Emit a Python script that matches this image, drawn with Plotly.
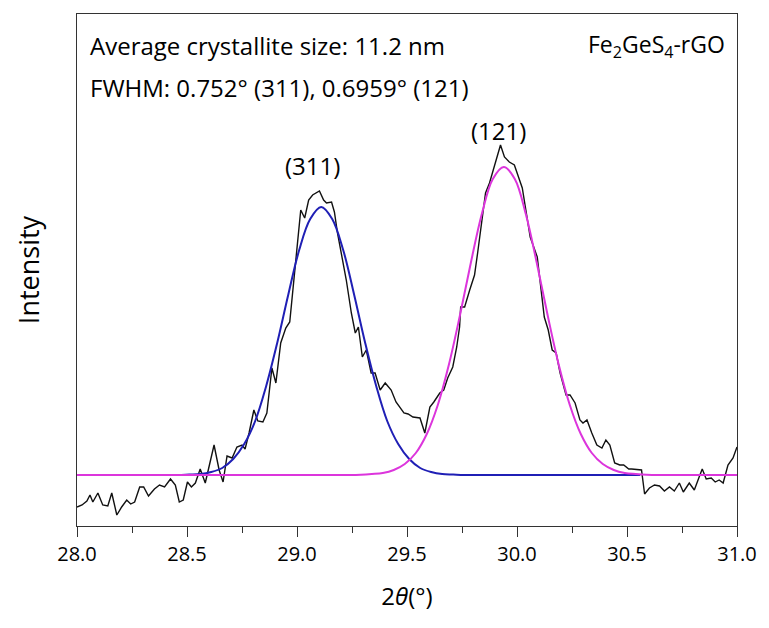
import plotly.graph_objects as go

# Measured XRD pattern (2theta in degrees, intensity in arbitrary units)
two_theta = [28.000, 28.023, 28.045, 28.059, 28.072, 28.095, 28.117, 28.140, 28.158, 28.181,
             28.203, 28.226, 28.244, 28.262, 28.285, 28.303, 28.325, 28.352, 28.375, 28.398,
             28.425, 28.447, 28.465, 28.483, 28.502, 28.520, 28.538, 28.560, 28.583, 28.601,
             28.623, 28.646, 28.664, 28.682, 28.705, 28.727, 28.750, 28.764, 28.782, 28.804,
             28.822, 28.845, 28.863, 28.886, 28.904, 28.926, 28.949, 28.967, 28.985, 29.003,
             29.017, 29.035, 29.053, 29.071, 29.089, 29.102, 29.121, 29.134, 29.157, 29.170,
             29.184, 29.202, 29.224, 29.247, 29.265, 29.279, 29.297, 29.315, 29.337, 29.355,
             29.378, 29.401, 29.428, 29.450, 29.468, 29.486, 29.505, 29.527, 29.559, 29.581,
             29.604, 29.622, 29.649, 29.667, 29.685, 29.708, 29.726, 29.739, 29.744, 29.762,
             29.785, 29.807, 29.821, 29.839, 29.857, 29.875, 29.889, 29.902, 29.925, 29.943,
             29.965, 29.988, 30.011, 30.024, 30.038, 30.060, 30.092, 30.105, 30.124, 30.142,
             30.160, 30.178, 30.196, 30.223, 30.241, 30.264, 30.286, 30.300, 30.318, 30.340,
             30.363, 30.386, 30.404, 30.422, 30.444, 30.467, 30.485, 30.508, 30.521, 30.566,
             30.580, 30.602, 30.625, 30.648, 30.670, 30.693, 30.715, 30.738, 30.756, 30.783,
             30.806, 30.828, 30.842, 30.860, 30.883, 30.901, 30.919, 30.937, 30.959, 30.982,
             31.000]
intensity = [19, 21, 25, 31, 24, 33, 21, 20, 33, 11,
             19, 26, 22, 24, 39, 39, 30, 37, 41, 39,
             47, 41, 24, 26, 44, 39, 43, 57, 43, 59,
             81, 56, 44, 70, 68, 79, 81, 77, 93, 116,
             105, 104, 113, 158, 143, 183, 198, 204, 246, 286,
             316, 308, 326, 331, 333, 335, 326, 323, 324, 314,
             293, 273, 246, 213, 193, 199, 169, 176, 153, 153,
             136, 143, 136, 124, 119, 113, 112, 109, 108, 93,
             119, 124, 133, 136, 148, 159, 179, 199, 219, 219,
             236, 251, 273, 306, 333, 343, 353, 363, 381, 369,
             364, 361, 346, 338, 319, 289, 269, 246, 209, 196,
             176, 173, 153, 131, 131, 123, 106, 103, 106, 93,
             81, 78, 86, 81, 63, 61, 61, 57, 57, 56,
             32, 38, 41, 40, 35, 39, 35, 43, 34, 43,
             36, 49, 57, 47, 48, 44, 46, 43, 61, 68,
             79]

# Fitted (311) peak
fit311_x = [28.41, 28.46, 28.51, 28.56, 28.61, 28.66, 28.71, 28.76, 28.81, 28.86,
            28.91, 28.96, 29.01, 29.06, 29.11, 29.16, 29.21, 29.26, 29.31, 29.36,
            29.41, 29.46, 29.51, 29.56, 29.61, 29.66, 29.71, 29.76, 29.96, 30.16,
            30.36, 30.56]
fit311_y = [51, 51, 51.5, 52, 54, 58, 67, 82, 105, 140,
            183, 231, 276, 307, 319, 307, 276, 231, 183, 140,
            105, 82, 67, 58, 54, 52, 51.5, 51, 51, 51,
            51, 51]

# Fitted (121) peak
fit121_x = [28.00, 28.40, 28.80, 29.19, 29.24, 29.29, 29.34, 29.39, 29.44, 29.49,
            29.54, 29.59, 29.64, 29.69, 29.74, 29.79, 29.84, 29.89, 29.94, 29.99,
            30.04, 30.09, 30.14, 30.19, 30.24, 30.29, 30.34, 30.39, 30.44, 30.49,
            30.54, 30.59, 30.64, 30.80, 31.00]
fit121_y = [51, 51, 51, 51, 51, 51.3, 52, 53, 56, 62,
            73, 92, 121, 161, 210, 263, 312, 347, 359, 347,
            312, 263, 210, 161, 121, 92, 73, 62, 56, 53,
            52, 51.3, 51, 51, 51]

x_ticks = [28.0, 28.5, 29.0, 29.5, 30.0, 30.5, 31.0]
x_tick_labels = ["28.0", "28.5", "29.0", "29.5", "30.0", "30.5", "31.0"]

FONT = "Open Sans"

fig = go.Figure()
fig.add_trace(go.Scatter(x=two_theta, y=intensity, mode="lines",
                         line=dict(color="#111111", width=1.4), showlegend=False))
fig.add_trace(go.Scatter(x=fit311_x, y=fit311_y, mode="lines",
                         line=dict(color="#1f1fb5", width=2, shape="spline", smoothing=1),
                         showlegend=False))
fig.add_trace(go.Scatter(x=fit121_x, y=fit121_y, mode="lines",
                         line=dict(color="#dc35dc", width=2, shape="spline", smoothing=1),
                         showlegend=False))

fig.update_layout(
    width=769, height=628,
    margin=dict(l=77, r=28, t=14, b=102),
    paper_bgcolor="white", plot_bgcolor="white",
    font=dict(family=FONT, color="black"),
    xaxis=dict(
        range=[28, 31], tickvals=x_ticks, ticktext=x_tick_labels,
        ticks="outside", ticklen=10, tickwidth=1.2, tickcolor="#333",
        minor=dict(dtick=0.25, tick0=28, ticks="outside", ticklen=6, tickwidth=1.2, tickcolor="#333"),
        showline=True, linecolor="#333", linewidth=1.3, mirror=True,
        showgrid=False, zeroline=False,
        tickfont=dict(size=20, family=FONT),
        title=dict(text="2<i>θ</i>(°)", font=dict(size=24, family=FONT), standoff=22),
    ),
    yaxis=dict(
        range=[0, 512], showticklabels=False, ticks="",
        showline=True, linecolor="#333", linewidth=1.3, mirror=True,
        showgrid=False, zeroline=False,
        title=dict(text="Intensity", font=dict(size=27, family=FONT), standoff=28),
    ),
    annotations=[
        dict(text="Average crystallite size: 11.2 nm", xref="paper", yref="paper",
             x=0.0166, y=0.939, xanchor="left", yanchor="middle", showarrow=False,
             font=dict(size=24, family=FONT)),
        dict(text="FWHM: 0.752° (311), 0.6959° (121)", xref="paper", yref="paper",
             x=0.0166, y=0.857, xanchor="left", yanchor="middle", showarrow=False,
             font=dict(size=24, family=FONT)),
        dict(text="Fe<sub>2</sub>GeS<sub>4</sub>-rGO", xref="paper", yref="paper",
             x=0.985, y=0.939, xanchor="right", yanchor="middle", showarrow=False,
             font=dict(size=23, family=FONT)),
        dict(text="(311)", xref="x", yref="y", x=29.07, y=361, showarrow=False,
             xanchor="center", yanchor="middle", font=dict(size=24, family=FONT)),
        dict(text="(121)", xref="x", yref="y", x=29.916, y=396, showarrow=False,
             xanchor="center", yanchor="middle", font=dict(size=24, family=FONT)),
    ],
)

fig.write_html("out.html")
